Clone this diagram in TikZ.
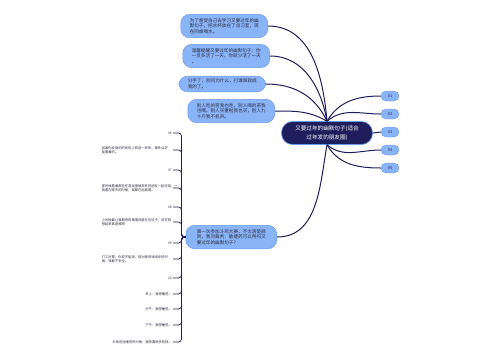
\documentclass[tikz,border=0pt]{standalone}
\usepackage{fontspec}
\setmainfont{Noto Sans CJK SC}
\usetikzlibrary{positioning}
\definecolor{navy}{HTML}{1F1E5C}
\definecolor{sky}{HTML}{8AB4F8}
\definecolor{skyline}{HTML}{6C9AEE}
\definecolor{ink}{HTML}{2B2B3F}

\begin{document}
\begin{tikzpicture}[x=1pt,y=-1pt,
  root/.style={fill=navy,draw=skyline,line width=0.6pt,rounded corners=11pt,text=white,align=center,
    font=\fontsize{5.6}{9.2}\selectfont,minimum width=91pt,minimum height=23pt},
  bub/.style={fill=sky,draw=skyline,line width=0.5pt,rounded corners=9pt,text=ink,align=left,
    font=\fontsize{4.6}{5.6}\selectfont,inner xsep=9pt,inner ysep=4pt,anchor=east},
  tag/.style={fill=sky,draw=skyline,line width=0.4pt,rounded corners=5pt,text=ink,
    font=\fontsize{4}{4}\selectfont,minimum width=18pt,minimum height=10pt,inner sep=0pt},
  leaf/.style={text=ink,font=\fontsize{3.3}{4.4}\selectfont,anchor=east,inner sep=1pt},
  note/.style={leaf,text width=70pt,align=left},
  link/.style={draw=navy,line width=1pt},
  twig/.style={draw=navy,line width=0.7pt,rounded corners=3pt}]
\useasboundingbox (0,0) rectangle (500,360);

% ---- centre
\node[root] (c) at (327,133) {又要过年的幽默句子(适合\\过年发的朋友圈)};

% ---- right: numbered tags
\foreach \i/\y in {1/96,2/114,3/132,4/150,5/168}
  \node[tag] (t\i) at (390,\y) {0\i};
\draw[link] (c.north) to[out=60,in=180] (t1.west);
\draw[link] (c.north) to[out=40,in=180] (t2.west);
\draw[link] (c.east) -- (t3.west);
\draw[link] (c.south) to[out=-40,in=180] (t4.west);
\draw[link] (c.south) to[out=-60,in=180] (t5.west);

% ---- left: bubbles
\node[bub] (b1) at (268,26) {为了督促自己去学习又要过年的幽\\默句子，把水杯放在了自习室，现\\在同桌喝水。};
\node[bub] (b2) at (270,56) {温馨提醒又要过年的幽默句子：你\\一旦多活了一天，你就少活了一天\\。};
\node[bub,inner ysep=3pt] (b3) at (266,84) {分手了，别问为什么，打谁谁就成\\我的了。};
\node[bub] (b4) at (275,111) {别人吃的苦我也吃，别人喝的茶我\\也喝，别人买重啦我也买，别人九\\十斤我不机声。};
\node[bub,inner xsep=11pt] (b5) at (277,237) {第一次参加斗鸡大赛，不太清楚规\\则，我问裁判：敏捷药可以用吗又\\要过年的幽默句子？};
\draw[link] (c.north) to[out=95,in=0] (b1.east);
\draw[link] (c.north) to[out=100,in=0] (b2.east);
\draw[link] (c.north) to[out=115,in=0] (b3.east);
\draw[link] (c.north) to[out=150,in=0] (b4.east);
\draw[link] (c.south) to[out=-100,in=0] (b5.east);

% ---- left: children of the last bubble
\node[leaf] (k06) at (173,133) {06};
\node[note] (n06) at (173,150) {如果你说我的的别的人的送一样来，事件点好\\能看着的。};
\node[leaf] (k07) at (173,170) {07};
\node[note] (n07) at (173,188) {那时候看着那些在游戏里被弄死的朋友一起吃饭，一\\我看在哪天的时候，我都在后面看。};
\node[leaf] (k08) at (173,207) {08};
\node[note] (n08) at (173,222) {小时候最让我期待的事情就是在包饺子，现在想\\想起来真是难啊};
\node[leaf] (k09) at (173,243) {09};
\node[note] (n09) at (173,259) {打工好累，你却不能哭，因为哪有钱给你的时\\候，钱都不安全。};
\node[leaf] (k10) at (173,278) {10};
\node[leaf] (m1) at (173,294) {早上：我想睡觉。};
\node[leaf] (m2) at (173,309) {中午：我想睡觉。};
\node[leaf] (m3) at (173,325) {下午：我想睡觉。};
\node[leaf] (m4) at (173,342) {半夜还没睡觉的时候：我想要很多的钱。};
\foreach \n in {k06,n06,k07,n07,k08,n08,k09,n09,k10,m1,m2,m3,m4}
  \draw[twig] (b5.west) -- ++(-4,0) |- (\n.east);
\end{tikzpicture}
\end{document}
